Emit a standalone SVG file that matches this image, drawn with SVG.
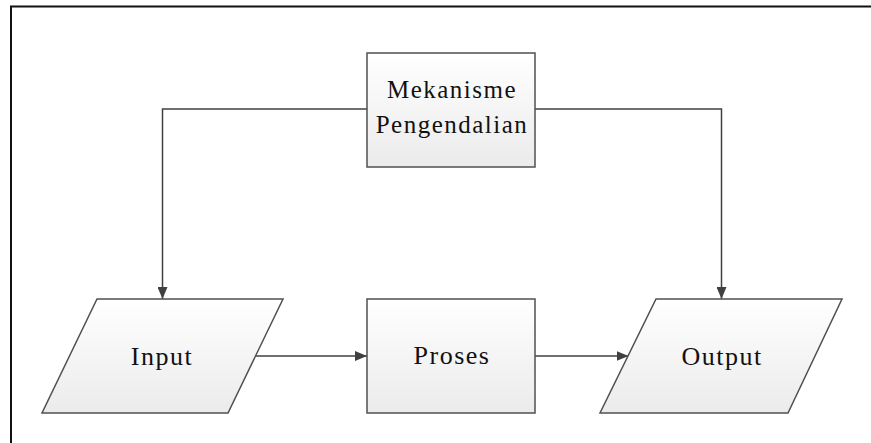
<svg xmlns="http://www.w3.org/2000/svg" width="871" height="443" viewBox="0 0 871 443">
  <style>
    .shape { stroke: #505050; stroke-width: 1.5; fill: url(#grad); }
    .conn { stroke: #404040; stroke-width: 1.5; fill: none; marker-end: url(#arrow); }
    .label { fill: #111; text-anchor: middle; letter-spacing: 1.5px; font-family: "Liberation Serif", "Times New Roman", serif; }
  </style>
  <defs>
    <linearGradient id="grad" x1="0" y1="0" x2="0" y2="1">
      <stop offset="0" stop-color="#ffffff"/>
      <stop offset="1" stop-color="#ebebeb"/>
    </linearGradient>
    <marker id="arrow" markerWidth="12" markerHeight="10" refX="12" refY="5" orient="auto" markerUnits="userSpaceOnUse">
      <path d="M0,0 L12,5 L0,10 Z" fill="#404040"/>
    </marker>
  </defs>
  <rect x="0" y="0" width="871" height="443" fill="#ffffff"/>
  <path d="M11,443 V6.5 H871" fill="none" stroke="#111" stroke-width="2"/>

  <g id="connectors">
    <path class="conn" d="M367,109 H162.5 V299"/>
    <path class="conn" d="M535,109 H721.5 V299"/>
    <path class="conn" d="M255.5,356 H367"/>
    <path class="conn" d="M535,356 H628.5"/>
  </g>

  <g id="mekanisme">
    <rect class="shape" x="367" y="53" width="168" height="114"/>
    <text class="label" x="452" y="98" font-size="25">Mekanisme</text>
    <text class="label" x="452" y="133" font-size="25">Pengendalian</text>
  </g>

  <g id="input">
    <polygon class="shape" points="97,299 283,299 228,413 42,413"/>
    <text class="label" x="162" y="365" font-size="26">Input</text>
  </g>

  <g id="proses">
    <rect class="shape" x="367" y="299" width="168" height="114"/>
    <text class="label" x="452" y="364" font-size="26">Proses</text>
  </g>

  <g id="output">
    <polygon class="shape" points="656,299 842,299 788,413 600,413"/>
    <text class="label" x="722" y="365" font-size="26">Output</text>
  </g>
</svg>
